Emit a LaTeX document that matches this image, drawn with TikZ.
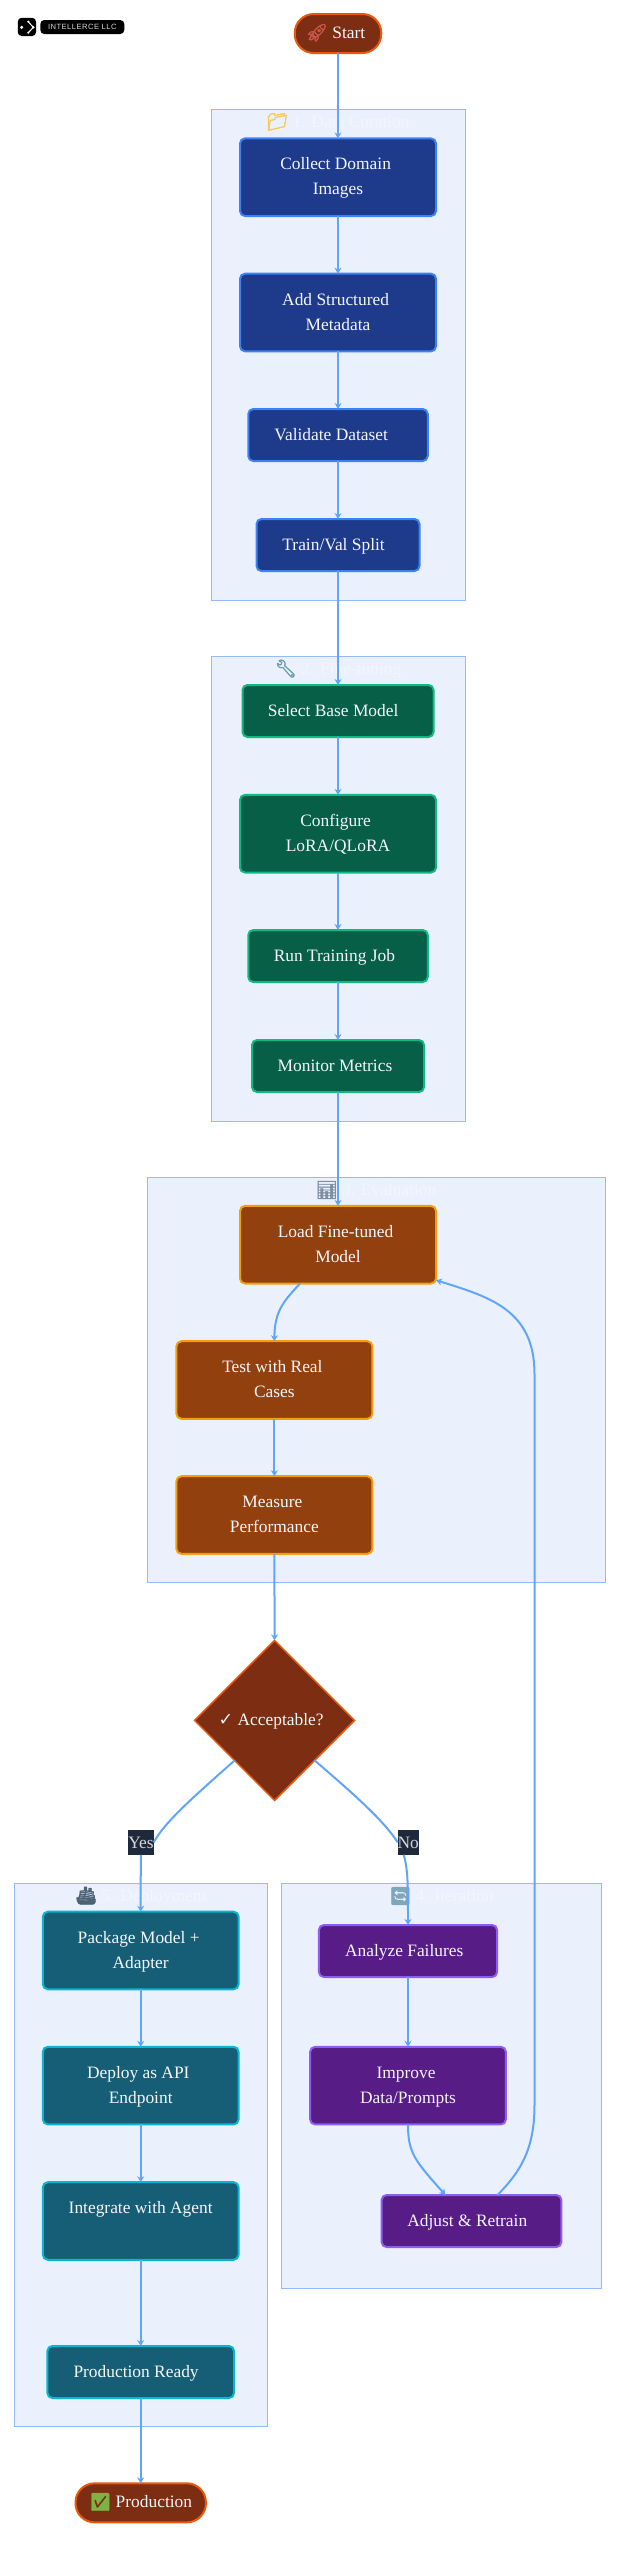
\documentclass[tikz,border=0pt]{standalone}
\usepackage{fontspec}
\setmainfont{Liberation Serif}
\newfontfamily\emojifont[FakeBold=2.5]{Noto Emoji}
\newfontfamily\markfont{DejaVu Sans}
\newfontfamily\logofont[LetterSpace=6]{Liberation Sans}
\usetikzlibrary{arrows.meta,shapes.geometric}

\definecolor{groupfill}{HTML}{EAF1FD}
\definecolor{groupline}{HTML}{93BBFB}
\definecolor{titleink}{HTML}{F2F6FD}
\definecolor{flowline}{HTML}{60A5FA}
\definecolor{boxink}{HTML}{F4F6FA}
\definecolor{bluefill}{HTML}{1E3A8A}
\definecolor{blueline}{HTML}{3B82F6}
\definecolor{greenfill}{HTML}{065F46}
\definecolor{greenline}{HTML}{10B981}
\definecolor{amberfill}{HTML}{92400E}
\definecolor{amberline}{HTML}{F59E0B}
\definecolor{tealfill}{HTML}{155E75}
\definecolor{tealline}{HTML}{06B6D4}
\definecolor{violetfill}{HTML}{581C87}
\definecolor{violetline}{HTML}{8B5CF6}
\definecolor{rustfill}{HTML}{7C2D12}
\definecolor{rustline}{HTML}{EA580C}
\definecolor{labelfill}{HTML}{1E293B}
\definecolor{emofolder}{HTML}{F8C955}
\definecolor{emowrench}{HTML}{6C9DB2}
\definecolor{emochart}{HTML}{7F8FA3}
\definecolor{emoship}{HTML}{4A6474}
\definecolor{emoloop}{HTML}{7FA7BA}
\definecolor{emorocket}{HTML}{C9564A}
\definecolor{emocheck}{HTML}{7CB342}

\newcommand{\rowtext}[2]{\strut #2\hspace*{#1pt}}
\newcommand{\emo}[2]{\textcolor{#1}{\emojifont #2}}

\tikzset{
        group/.style={draw=groupline, fill=groupfill, line width=1pt},
        grouptitle/.style={text=titleink, inner sep=0pt, font=\fontsize{17.4}{25}\selectfont},
        stepbox/.style={draw, rounded corners=5pt, line width=2pt, outer sep=0pt, inner sep=0pt,
                align=center, text=boxink, minimum height=52pt, font=\fontsize{17.4}{25}\selectfont},
        tall/.style={minimum height=77.6pt},
        databox/.style={stepbox, draw=blueline, fill=bluefill},
        tunebox/.style={stepbox, draw=greenline, fill=greenfill},
        evalbox/.style={stepbox, draw=amberline, fill=amberfill},
        shipbox/.style={stepbox, draw=tealline, fill=tealfill},
        iterbox/.style={stepbox, draw=violetline, fill=violetfill},
        endbox/.style={stepbox, draw=rustline, fill=rustfill, rounded corners=19pt, minimum height=39pt},
        choice/.style={diamond, draw=rustline, fill=rustfill, line width=1.5pt, outer sep=0pt, inner sep=0pt,
                minimum width=160pt, minimum height=160pt, text=boxink, font=\fontsize{17.4}{25}\selectfont},
        answer/.style={fill=labelfill, text=boxink!85!labelfill, inner sep=0pt, outer sep=0pt,
                minimum height=24.8pt, font=\fontsize{17.4}{25}\selectfont},
        flow/.style={draw=flowline, line width=2pt},
        step to/.style={flow, -{Stealth[length=6pt,width=7pt]}}
}

\begin{document}
\begin{tikzpicture}[x=1pt, y=-1pt]
        \useasboundingbox (0,0) rectangle (625,2560);

        \draw[group] (211,109) rectangle (465,600);
        \draw[group] (211,656.3) rectangle (465,1121);
        \draw[group] (147.5,1177) rectangle (605.5,1582.5);
        \draw[group] (14,1883.3) rectangle (267.4,2426.6);
        \draw[group] (281.4,1883.3) rectangle (601.4,2288.6);

        \node[grouptitle] (datatitle) at (338,122) {\emo{emofolder}{📁}\ 1. Data Curation};
        \node[grouptitle] (tunetitle) at (338,669) {\emo{emowrench}{🔧}\ 2. Fine-tuning};
        \node[grouptitle] (evaltitle) at (376,1190) {\emo{emochart}{📊}\ 3. Evaluation};
        \node[grouptitle] (shiptitle) at (140.7,1896) {\emo{emoship}{🚢}\ 5. Deployment};
        \node[grouptitle] (itertitle) at (441.4,1896) {\emo{emoloop}{🔄}\ 4. Iteration};

        \node[rounded corners=4pt, fill=black, minimum size=18.3pt, inner sep=0pt] (logomark) at (26.9,26.9) {};
        \fill[white] (21.7,27.3) circle [radius=1.7];
        \fill[white] (28.3,21.7) circle [radius=1.2];
        \fill[white] (28.3,32.7) circle [radius=1.2];
        \fill[white] (33.3,27.3) circle [radius=1.4];
        \draw[white, line width=1pt] (28.3,21.7) -- (33.3,27.3) -- (28.3,32.7);
        \node[rounded corners=4pt, fill=black, text=white!85!black, minimum width=84pt, minimum height=14pt, inner sep=0pt,
                font=\logofont\fontsize{7.6}{8}\selectfont] (logoname) at (82.3,27) {INTELLERCE LLC};

        \node[endbox, minimum width=86.5pt] (start) at (338,33.5) {\rowtext{4.8}{\emo{emorocket}{🚀} Start}};

        \node[databox, tall, minimum width=196pt] (collect) at (338,177.2) {\rowtext{4.8}{Collect Domain}\\\rowtext{0}{Images}};
        \node[databox, tall, minimum width=196pt] (metadata) at (338,312.5) {\rowtext{4.8}{Add Structured}\\\rowtext{0}{Metadata}};
        \node[databox, minimum width=179.5pt] (validate) at (338,435) {\rowtext{13.6}{Validate Dataset}};
        \node[databox, minimum width=163pt] (split) at (338,545) {\rowtext{8.8}{Train/Val Split}};

        \node[tunebox, minimum width=191pt] (basemodel) at (338,711) {\rowtext{9.6}{Select Base Model}};
        \node[tunebox, tall, minimum width=196pt] (configure) at (338,833.7) {\rowtext{4.8}{Configure}\\\rowtext{0}{LoRA/QLoRA}};
        \node[tunebox, minimum width=179.5pt] (training) at (338,956) {\rowtext{7.2}{Run Training Job}};
        \node[tunebox, minimum width=172pt] (metrics) at (338,1066) {\rowtext{6}{Monitor Metrics}};

        \node[evalbox, tall, minimum width=196pt] (load) at (338,1244.7) {\rowtext{4.8}{Load Fine-tuned}\\\rowtext{0}{Model}};
        \node[evalbox, tall, minimum width=196pt] (test) at (274.4,1380) {\rowtext{4}{Test with Real}\\\rowtext{0}{Cases}};
        \node[evalbox, tall, minimum width=196pt] (measure) at (274.4,1515) {\rowtext{4}{Measure}\\\rowtext{0}{Performance}};

        \node[choice] (accept) at (274.6,1720.4) {\rowtext{7}{{\markfont ✓} Acceptable?}};
        \node[answer, minimum width=24.4pt] (yes) at (141,1842.4) {Yes};
        \node[answer, minimum width=19.4pt] (no) at (408.3,1842.4) {No};

        \node[shipbox, tall, minimum width=195.7pt] (package) at (140.7,1950.5) {\rowtext{4}{Package Model +}\\\rowtext{0}{Adapter}};
        \node[shipbox, tall, minimum width=195.7pt] (deploy) at (140.7,2085.6) {\rowtext{4.8}{Deploy as API}\\\rowtext{0}{Endpoint}};
        \node[shipbox, tall, minimum width=195.7pt] (agent) at (140.7,2221) {\rowtext{0}{Integrate with Agent}\\\rowtext{0}{~}};
        \node[shipbox, minimum width=186.6pt] (ready) at (140.7,2372) {\rowtext{9.2}{Production Ready}};
        \node[endbox, minimum width=130.4pt] (production) at (140.7,2502.8) {\rowtext{0}{\emo{emocheck}{✅} Production}};

        \node[iterbox, minimum width=178.2pt] (failures) at (408,1951) {\rowtext{7.6}{Analyze Failures}};
        \node[iterbox, tall, minimum width=195.7pt] (improve) at (408,2085.6) {\rowtext{4}{Improve}\\\rowtext{0}{Data/Prompts}};
        \node[iterbox, minimum width=179.8pt] (adjust) at (471.5,2221) {\rowtext{8.4}{Adjust \& Retrain}};

        \draw[step to] (start) -- (collect);
        \draw[step to] (collect) -- (metadata);
        \draw[step to] (metadata) -- (validate);
        \draw[step to] (validate) -- (split);
        \draw[step to] (split) -- (basemodel);
        \draw[step to] (basemodel) -- (configure);
        \draw[step to] (configure) -- (training);
        \draw[step to] (training) -- (metrics);
        \draw[step to] (metrics) -- (load);
        \draw[step to] ([xshift=-38pt]load.south) .. controls (285,1300) and (274.4,1310) .. (test.north);
        \draw[step to] (test) -- (measure);
        \draw[step to] (measure.south) -- (accept.north);
        \draw[flow] (accept.south west) .. controls (190,1800) and (165,1822) .. (yes.east);
        \draw[step to] (yes.south) .. controls (140.7,1870) and (140.7,1885) .. (package.north);
        \draw[flow] (accept.south east) .. controls (355,1795) and (385,1822) .. (no.west);
        \draw[step to] (no.250) .. controls (408,1870) and (408,1885) .. (failures.north);
        \draw[step to] (package) -- (deploy);
        \draw[step to] (deploy) -- (agent);
        \draw[step to] (agent) -- (ready);
        \draw[step to] (ready.south) -- (production.north);
        \draw[step to] (failures) -- (improve);
        \draw[step to] (improve.south) .. controls (408,2152) and (414,2160) .. ([xshift=-26pt]adjust.north);
        \draw[step to] ([xshift=26pt]adjust.north) .. controls (520,2172) and (534.5,2150) .. (534.5,2105)
                -- (534.5,1374) .. controls (534.5,1310) and (490,1297) .. ([yshift=-35.5pt]load.east);
\end{tikzpicture}
\end{document}
